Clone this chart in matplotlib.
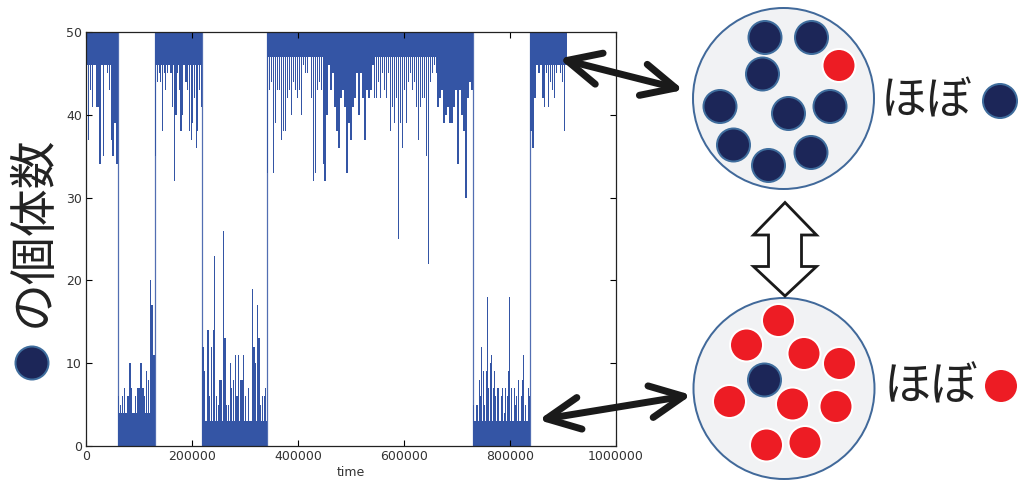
import numpy as np
import matplotlib
matplotlib.use("Agg")
import matplotlib.pyplot as plt
from matplotlib.patches import Circle, FancyArrowPatch, Polygon, ArrowStyle

# --- population time series -------------------------------------------------
# Time at which the population switches between the "mostly navy" (near 50)
# and "mostly red" (near 0) states.
regime_edges = [0, 60000, 130000, 219000, 341000, 730000, 838000, 908000]
regime_high = [True, False, True, False, True, False, True]
# level down to (or up to) which the fast fluctuations fill in solidly
band_levels = [46, 4, 46, 3, 47, 3, 46]

# extreme excursions recorded through each state, in time order
high_1 = [46, 37, 43, 41, 46, 41, 41, 34, 46, 35, 47, 45, 43, 37, 35, 39, 34]
low_1 = [6, 5, 6, 7, 4, 6, 10, 7, 3, 6, 7, 7, 10, 7, 6, 9, 8, 20, 17, 11]
high_2 = [35, 44, 45, 44, 38, 45, 43, 45, 48, 45, 41, 32, 40, 45, 43, 38, 40,
          46, 44, 43, 38, 37, 39, 42, 36, 38, 43, 41]
low_2 = [12, 9, 3, 14, 6, 12, 14, 23, 6, 5, 8, 8, 26, 13, 5, 5, 10, 7, 8, 11,
         6, 11, 8, 8, 11, 6, 3, 7, 3, 19, 12, 10, 17, 13, 5, 6, 6, 7]
high_3 = [33, 43, 44, 33, 39, 43, 43, 37, 38, 38, 42, 43, 40, 44, 43, 42, 43,
          40, 46, 45, 45, 47, 42, 32, 33, 43, 44, 43, 34, 32, 40, 46, 43, 45,
          41, 38, 36, 42, 43, 41, 33, 39, 37, 41, 42, 45, 40, 45, 42, 37, 43,
          42,
          43, 46, 42, 42, 44, 42, 45, 43, 42, 45, 38, 41, 39, 42, 25, 39, 36,
          43, 39, 44, 45, 43, 44, 41, 37, 41, 42, 42, 35, 22, 44, 45, 46, 45,
          41, 42, 43, 39, 40, 41, 39, 39, 41, 43, 34, 43, 40, 38, 30, 42, 44,
          43]
low_3 = [5, 3, 5, 5, 8, 6, 12, 9, 5, 9, 18, 7, 10, 11, 7, 9, 6, 7, 7, 3, 6, 7,
         4, 7, 6, 9, 18, 7, 3, 7, 5, 6, 8, 3, 6, 8, 11, 5, 3, 7, 6]
high_4 = [38, 36, 42, 46, 45, 46, 42, 41, 45, 41, 44, 43, 42, 45, 46, 45, 44,
          38, 46]
regime_values = [high_1, low_1, high_2, low_2, high_3, low_3, high_4]

population_max = 50
x_ticks = [0, 200000, 400000, 600000, 800000, 1000000]
y_ticks = [0, 10, 20, 30, 40, 50]

LINE = "#3455a5"
NAVY = "#1c2658"
NAVY_EDGE = "#3f6d9d"
RED = "#ed1c24"
DISH_FILL = "#f1f2f4"
DISH_EDGE = "#41699a"

W, H = 1020, 482
fig = plt.figure(figsize=(W / 100, H / 100), dpi=100)
ax = fig.add_axes([86 / W, 1 - 446 / H, 530 / W, 414 / H])

for a, b, high, band, vals in zip(regime_edges[:-1], regime_edges[1:],
                                  regime_high, band_levels, regime_values):
    n = len(vals)
    step = (b - a) / n
    t = a + step * (np.arange(n) + 0.5)
    base = population_max if high else 0
    ax.fill_between([a, b], band, base, color=LINE, lw=0, antialiased=False)
    vals = np.asarray(vals, dtype=float)
    ax.bar(t, vals - base, bottom=base, width=0.72 * step, color=LINE, lw=0)

# jumps between the two states
ax.vlines(regime_edges[1:-1], 0, population_max, color=LINE, lw=0.9, alpha=0.85)

ax.set_xlim(0, 1000000)
ax.set_ylim(0, population_max)
ax.set_xticks(x_ticks)
ax.set_xticklabels([str(v) for v in x_ticks])
ax.set_yticks(y_ticks)
ax.set_yticklabels([str(v) for v in y_ticks])
ax.tick_params(direction="in", top=True, right=True, length=4, width=0.8,
               labelsize=9, labelcolor="#333333", pad=3)
for s in ax.spines.values():
    s.set_linewidth(0.9)
    s.set_color("#222222")
ax.set_xlabel("time", fontsize=9, color="#333333", labelpad=2)

# --- illustration overlay (pixel coordinates) --------------------------------
ov = fig.add_axes([0, 0, 1, 1], zorder=5)
ov.set_xlim(0, W)
ov.set_ylim(H, 0)
ov.axis("off")
ov.patch.set_alpha(0)

JP = ["Noto Sans CJK JP", "DejaVu Sans"]
PX = 0.72  # points per pixel at 100 dpi


def ball(x, y, color, r=16.5):
    edge = NAVY_EDGE if color == NAVY else "white"
    ov.add_patch(Circle((x, y), r, facecolor=color, edgecolor=edge,
                        lw=2 * PX, zorder=4))


# y-axis label: a navy ball followed by the text
ball(32, 363, NAVY)
ov.text(33, 231, "の個体数", rotation=90, fontsize=34.5, family=JP,
        ha="center", va="center", color="#222222")

# upper dish: almost all navy
ov.add_patch(Circle((783.5, 98.5), 90.5, facecolor=DISH_FILL,
                    edgecolor=DISH_EDGE, lw=2 * PX, zorder=3))
top_navy = [(765, 37.5), (811.5, 37.5), (762.5, 74), (720, 106.5),
            (788.5, 113.5), (830, 106.5), (733.5, 145), (768.5, 165.5),
            (811, 152.5)]
top_red = [(839, 65.5)]
for x, y in top_navy:
    ball(x, y, NAVY)
for x, y in top_red:
    ball(x, y, RED)

# lower dish: almost all red
ov.add_patch(Circle((784, 388.5), 90.5, facecolor=DISH_FILL,
                    edgecolor=DISH_EDGE, lw=2 * PX, zorder=3))
bottom_red = [(778.5, 320.5), (746.5, 345), (804, 353.5), (839.5, 363.5),
              (729.5, 401.5), (792.5, 404), (836, 406.5), (766.5, 445),
              (805, 442.5)]
bottom_navy = [(764.5, 380)]
for x, y in bottom_red:
    ball(x, y, RED)
for x, y in bottom_navy:
    ball(x, y, NAVY)

# captions beside the dishes
ov.text(881, 101, "ほぼ", fontsize=33, family=JP, ha="left", va="center",
        color="#222222")
ball(1000, 101, NAVY, r=17)
ov.text(884, 387, "ほぼ", fontsize=34, family=JP, ha="left", va="center",
        color="#222222")
ball(1001, 386, RED, r=17)

# black double-headed arrows linking the series to the dishes
style = ArrowStyle("<->", head_length=24, head_width=11.5)
for (x0, y0), (x1, y1) in [((559, 58.5), (683.5, 90)),
                           ((538.5, 420), (691.5, 395))]:
    ov.add_patch(FancyArrowPatch((x0, y0), (x1, y1), arrowstyle=style,
                                 mutation_scale=1, lw=7 * PX, color="#1a1a1a",
                                 capstyle="round", joinstyle="round",
                                 shrinkA=0, shrinkB=0, zorder=6))

# hollow vertical arrow between the dishes
cx = 785
shaft, head = 16.5, 31.5
outline = [(cx, 202.5), (cx + head, 235), (cx + shaft, 235),
           (cx + shaft, 266.5), (cx + head, 266.5), (cx, 296),
           (cx - head, 266.5), (cx - shaft, 266.5), (cx - shaft, 235),
           (cx - head, 235)]
ov.add_patch(Polygon(outline, closed=True, facecolor="white",
                     edgecolor="#1a1a1a", lw=2.8 * PX, joinstyle="miter",
                     zorder=6))

fig.savefig("out.png", dpi=100)
